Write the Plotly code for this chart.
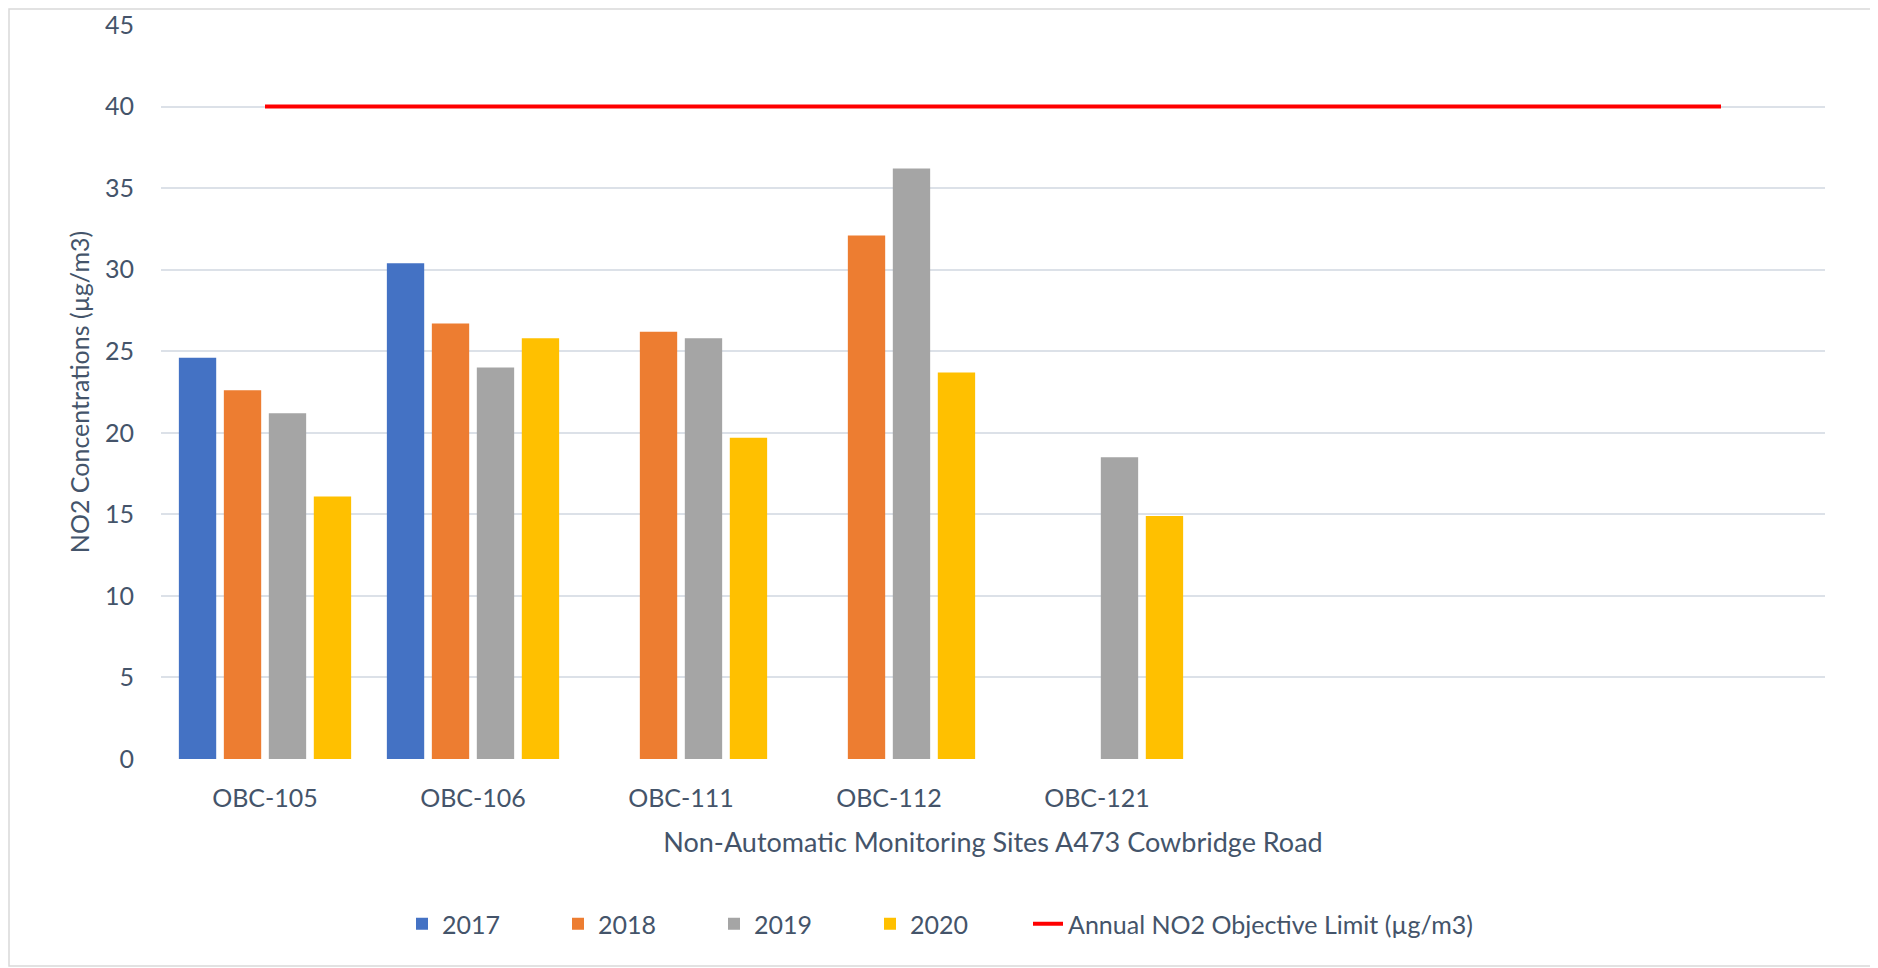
import plotly.graph_objects as go

# ---- data ----
sites = ["OBC-105", "OBC-106", "OBC-111", "OBC-112", "OBC-121", "", "", ""]
y2017 = [24.6, 30.4, None, None, None, None, None, None]
y2018 = [22.6, 26.7, 26.2, 32.1, None, None, None, None]
y2019 = [21.2, 24.0, 25.8, 36.2, 18.5, None, None, None]
y2020 = [16.1, 25.8, 19.7, 23.7, 14.9, None, None, None]
limit = [40, 40, 40, 40, 40, 40, 40, 40]
series_names = ["2017", "2018", "2019", "2020"]
limit_name = "Annual NO2 Objective Limit (µg/m3)"
x_title = "Non-Automatic Monitoring Sites A473 Cowbridge Road"
y_title = "NO2 Concentrations (µg/m3)"
y_ticks = [0, 5, 10, 15, 20, 25, 30, 35, 40, 45]

colors = ["#4472C4", "#ED7D31", "#A5A5A5", "#FFC000"]
text_color = "#44546A"
font_family = "Lato, 'Open Sans', sans-serif"

# page body has an 8px margin; size the figure so the plot lands where the reference has it
OFF = 8
W, H = 1878 - OFF, 968 - OFF
ML, MR, MT, MB = 161 - OFF, 53, 25 - OFF, 209
PW = W - ML - MR
PH = H - MT - MB
PLOT_BOTTOM_PAGE = OFF + MT + PH

xpos = list(range(len(sites)))

fig = go.Figure()
for name, vals, col in zip(series_names, [y2017, y2018, y2019, y2020], colors):
    fig.add_trace(go.Bar(x=xpos, y=vals, name=name, legend="legend",
                         marker=dict(color=col, line=dict(width=0))))

fig.add_trace(go.Scatter(x=xpos, y=limit, name=limit_name, mode="lines", legend="legend2",
                         line=dict(color="#FF0000", width=4)))

# legend centre line in page pixels -> paper coords
legend_y = (PLOT_BOTTOM_PAGE - 924) / PH

fig.update_layout(
    width=W, height=H,
    margin=dict(l=ML, r=MR, t=MT, b=MB, autoexpand=False),
    paper_bgcolor="white", plot_bgcolor="white",
    barmode="group", bargap=0.135, bargroupgap=0.17,
    font=dict(family=font_family, color=text_color, size=25),
    showlegend=True,
    legend=dict(orientation="h", xanchor="left", yanchor="middle",
                x=(402 - 161) / PW, y=legend_y,
                font=dict(size=25, color=text_color),
                entrywidth=111, entrywidthmode="pixels",
                bgcolor="rgba(0,0,0,0)"),
    legend2=dict(orientation="h", xanchor="left", yanchor="middle",
                 x=(1028 - 161) / PW, y=legend_y,
                 font=dict(size=25, color=text_color),
                 bgcolor="rgba(0,0,0,0)"),
    xaxis=dict(range=[-0.5, 7.5], tickvals=xpos, ticktext=sites, automargin=False,
               showgrid=False, zeroline=False, showline=False, ticks="",
               tickfont=dict(size=25, color=text_color),
               ticklabelstandoff=22,
               title=dict(text=x_title, font=dict(size=27, color=text_color), standoff=22)),
    yaxis=dict(range=[0, 45], tickvals=y_ticks, showgrid=True, automargin=False,
               gridcolor="#DCE1E8", gridwidth=1.5, zeroline=False, showline=False, ticks="",
               tickfont=dict(size=25, color=text_color),
               ticklabelstandoff=26, ticklabeloverflow="allow",
               title=dict(text=y_title, font=dict(size=25, color=text_color), standoff=8)),
)

# outer chart border
fig.add_shape(type="rect", xref="paper", yref="paper",
              x0=(1 - ML) / PW, x1=(W - 2 - ML) / PW,
              y0=(MT + PH - (H - 2)) / PH, y1=(MT + PH - 1) / PH,
              line=dict(color="#D9D9D9", width=1.5), layer="below")

fig.write_html("out.html")
